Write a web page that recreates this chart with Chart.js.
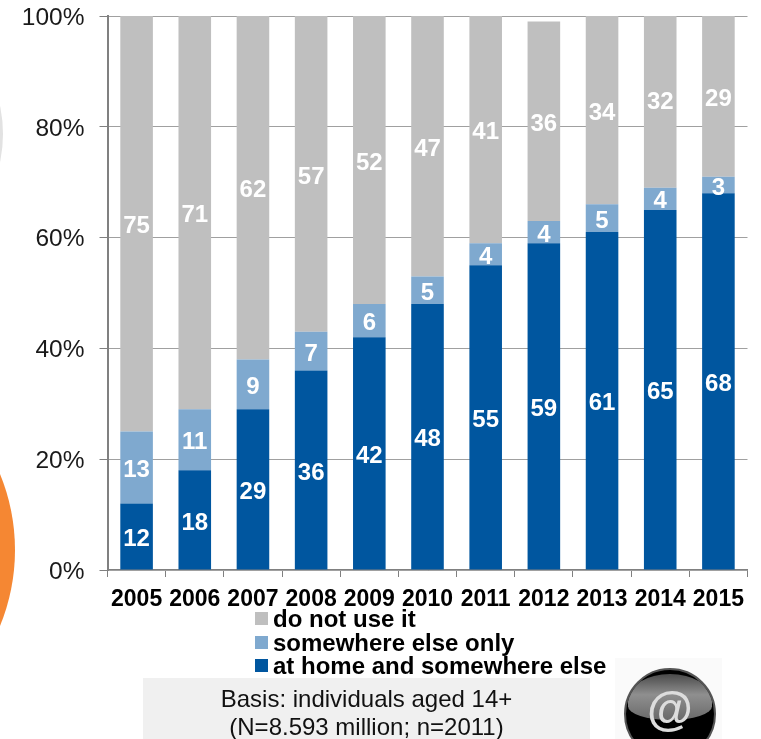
<!DOCTYPE html>
<html>
<head>
<meta charset="utf-8">
<script src="https://cdn.jsdelivr.net/npm/chart.js@4"></script>
<style>
  html, body { margin: 0; padding: 0; background: #fff; }
  #stage { position: relative; width: 761px; height: 739px; overflow: hidden; font-family: "Liberation Sans", Arial, sans-serif; }
  #stage canvas { position: absolute; left: 0; top: 0; }
  .disc { position: absolute; border-radius: 50%; }
  #orange { left: -385px; top: 350px; width: 400px; height: 400px; background: #f58733; }
  #pale { left: -265px; top: 0; width: 268px; height: 268px; background: #e2e2e2; }
  #legend { position: absolute; left: 255px; top: 607px; font-weight: bold; font-size: 24px; color: #000; }
  #legend div { position: relative; height: 23.5px; line-height: 23.5px; padding-left: 18px; white-space: nowrap; }
  #legend i { position: absolute; left: 0; top: 5px; width: 13px; height: 13px; }
  #note { position: absolute; left: 143px; top: 678px; width: 447px; height: 61px; background: #f0f0f0; color: #111; font-size: 24px; line-height: 28px; text-align: center; padding-top: 7px; box-sizing: border-box; white-space: nowrap; }
  #badge { position: absolute; left: 615px; top: 658px; width: 107px; height: 81px; overflow: hidden; background: #fafafa; }
  #badge .ball { position: absolute; left: 9px; top: 10px; width: 92px; height: 92px; border-radius: 50%; overflow: hidden; box-sizing: border-box; border: 2px solid #555; background: #000; filter: blur(0.7px); }
  #badge .shine { position: absolute; left: 2px; top: 4px; width: 84px; height: 46px; border-radius: 50% 50% 50% 50% / 55% 55% 30% 30%; background: linear-gradient(#4a4a4a 0%, #8f8f8f 45%, #6a6a6a 100%); }
  #badge span { position: absolute; left: 0; width: 110px; top: 23px; text-align: center; font: bold 47px "Liberation Sans", Arial, sans-serif; color: #ddd; filter: blur(0.5px); }
</style>
</head>
<body>
<div id="stage">
  <div class="disc" id="orange"></div>
  <div class="disc" id="pale"></div>
  <canvas id="usage" width="761" height="739"></canvas>
  <div id="legend"></div>
  <div id="note">Basis: individuals aged 14+<br>(N=8.593 million; n=2011)</div>
  <div id="badge"><div class="ball"><div class="shine"></div></div><span>@</span></div>
</div>
<script>
// Internet use by place of access, share of the population per year
const years = ['2005','2006','2007','2008','2009','2010','2011','2012','2013','2014','2015'];
const homeAndElsewhere = [12,18,29,36,42,48,55,59,61,65,68];
const elsewhereOnly = [13,11,9,7,6,5,4,4,5,4,3];
const doNotUse = [75,71,62,57,52,47,41,36,34,32,29];
const percentTicks = [0,20,40,60,80,100];

const FONT = '"Liberation Sans", Arial, sans-serif';

// Writes each segment's value in the middle of its bar segment
const segmentValues = {
  id: 'segmentValues',
  afterDatasetsDraw(chart) {
    const ctx = chart.ctx;
    ctx.save();
    ctx.font = 'bold 24px ' + FONT;
    ctx.fillStyle = '#fff';
    ctx.textAlign = 'center';
    ctx.textBaseline = 'middle';
    chart.data.datasets.forEach((ds, i) => {
      chart.getDatasetMeta(i).data.forEach((bar, j) => {
        const c = bar.getCenterPoint();
        ctx.fillText(String(ds.data[j]), c.x, c.y + 3);
      });
    });
    ctx.restore();
  }
};

const chart = new Chart(document.getElementById('usage'), {
  type: 'bar',
  data: {
    labels: years,
    datasets: [
      { label: 'at home and somewhere else', data: homeAndElsewhere, backgroundColor: '#00569f' },
      { label: 'somewhere else only', data: elsewhereOnly, backgroundColor: '#7fa9cf' },
      { label: 'do not use it', data: doNotUse, backgroundColor: '#bfbfbf' }
    ]
  },
  options: {
    responsive: false,
    animation: false,
    layout: { padding: { top: 16, right: 13.5, left: 0, bottom: 0 } },
    plugins: { legend: { display: false }, tooltip: { enabled: false } },
    datasets: { bar: { barPercentage: 0.56, categoryPercentage: 1 } },
    scales: {
      x: {
        stacked: true,
        afterFit(s) { s.height = 169; s.paddingLeft = 0; s.paddingRight = 0; },
        grid: { display: true, drawOnChartArea: false, offset: true, tickLength: 7, tickColor: '#808080', tickWidth: 1 },
        border: { color: '#808080', width: 2 },
        ticks: { color: '#000', font: { family: FONT, size: 23, weight: 'bold' }, padding: 9, maxRotation: 0, autoSkip: false }
      },
      y: {
        stacked: true,
        min: 0,
        max: 100,
        afterFit(s) { s.width = 107.5; s.paddingTop = 0; s.paddingBottom = 0; },
        afterBuildTicks(s) { s.ticks = percentTicks.map(v => ({ value: v })); },
        grid: { color: '#a0a0a0', lineWidth: 1, borderDash: [1, 2], tickLength: 8, tickColor: '#808080', tickBorderDash: [], z: 0 },
        border: { color: '#808080', width: 2 },
        ticks: { color: '#1a1a1a', font: { family: FONT, size: 24.5 }, padding: 15, labelOffset: 2, callback: v => v + '%' }
      }
    }
  },
  plugins: [segmentValues]
});

// Legend column, top entry matching the top of the stack
const legendBox = document.getElementById('legend');
chart.data.datasets.slice().reverse().forEach(ds => {
  const row = document.createElement('div');
  const swatch = document.createElement('i');
  swatch.style.background = ds.backgroundColor;
  row.appendChild(swatch);
  row.appendChild(document.createTextNode(ds.label));
  legendBox.appendChild(row);
});
</script>
</body>
</html>
